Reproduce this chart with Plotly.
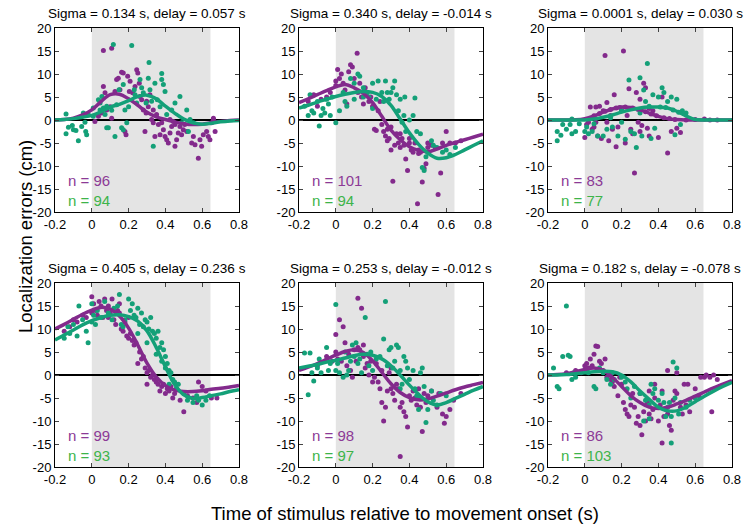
import plotly.graph_objects as go

# titles and counts per panel (row by row)
titles = [
    "Sigma = 0.134 s, delay = 0.057 s",
    "Sigma = 0.340 s, delay = -0.014 s",
    "Sigma = 0.0001 s, delay = 0.030 s",
    "Sigma = 0.405 s, delay = 0.236 s",
    "Sigma = 0.253 s, delay = -0.012 s",
    "Sigma = 0.182 s, delay = -0.078 s",
]
n_purple = [96, 101, 83, 99, 98, 86]
n_green = [94, 94, 77, 93, 97, 103]

x_ticks = [-0.2, 0, 0.2, 0.4, 0.6, 0.8]
x_tick_labels = ["-0.2", "0", "0.2", "0.4", "0.6", "0.8"]
y_ticks = [-20, -15, -10, -5, 0, 5, 10, 15, 20]
y_tick_labels = ["-20", "-15", "-10", "-5", "0", "5", "10", "15", "20"]

movement_end = 0.645

# fitted curves, sampled every 0.05 s
curve_x = [-0.2, -0.15, -0.1, -0.05, 0, 0.05, 0.1, 0.15, 0.2, 0.25, 0.3,
           0.35, 0.4, 0.45, 0.5, 0.55, 0.6, 0.65, 0.7, 0.75, 0.8]
curve_purple = [
    [0, 0.1, 0.4, 1.1, 2.2, 4.0, 5.5, 5.6, 4.6, 3.2, 1.7, 0.7, 0.1, -0.4, -0.8, -1.0, -0.9, -0.6, -0.3, -0.1, 0],
    [3.8, 4.6, 5.5, 6.4, 7.2, 7.7, 7.0, 5.8, 3.8, 0.8, -2.2, -4.3, -5.8, -6.6, -6.9, -6.3, -5.5, -4.9, -4.3, -3.7, -3.1],
    [0, 0, 0, 0.05, 0.3, 0.9, 1.7, 2.4, 2.8, 2.7, 2.2, 1.5, 0.8, 0.3, 0.1, 0, 0, 0, 0, 0, 0],
    [10.0, 11.0, 12.1, 13.2, 14.1, 14.7, 14.3, 12.8, 10.2, 6.5, 2.6, -0.4, -2.3, -3.3, -3.6, -3.6, -3.4, -3.1, -2.9, -2.6, -2.3],
    [1.0, 1.7, 2.5, 3.4, 4.3, 5.1, 5.5, 4.9, 3.1, 0.6, -1.9, -3.8, -4.9, -5.4, -5.2, -4.6, -3.9, -3.2, -2.6, -2.1, -1.6],
    [0, 0.1, 0.3, 0.7, 1.2, 1.5, 1.0, -0.5, -2.5, -4.5, -6.0, -7.0, -7.3, -7.0, -6.3, -5.5, -4.6, -3.7, -2.8, -2.0, -1.2],
]
curve_green = [
    [0, 0.1, 0.3, 0.6, 1.0, 1.8, 2.8, 3.4, 4.2, 5.1, 5.4, 4.6, 3.0, 1.5, 0.2, -0.6, -0.9, -0.7, -0.4, -0.2, -0.1],
    [2.6, 3.2, 3.9, 4.5, 5.1, 5.6, 6.0, 6.2, 6.0, 5.1, 3.2, 0.2, -2.8, -5.3, -7.2, -8.3, -8.2, -7.5, -6.5, -5.5, -4.5],
    [0, 0, 0, 0, 0, 0.2, 0.6, 1.1, 1.7, 2.2, 2.6, 2.8, 2.8, 2.6, 1.9, 0.9, 0.1, 0, 0, 0, 0],
    [7.6, 8.7, 9.8, 10.9, 11.8, 12.5, 13.0, 13.1, 12.7, 11.7, 9.6, 6.0, 1.8, -2.0, -4.3, -5.1, -4.9, -4.5, -4.1, -3.6, -3.2],
    [1.5, 1.9, 2.3, 2.8, 3.2, 3.7, 4.2, 4.5, 4.3, 3.5, 2.0, 0.0, -2.2, -4.2, -5.8, -6.5, -6.0, -5.1, -4.2, -3.3, -2.5],
    [0, 0, 0.1, 0.3, 0.5, 0.7, 0.8, 0.7, 0.0, -1.5, -3.5, -5.3, -7.0, -7.8, -7.8, -7.0, -5.8, -4.6, -3.5, -2.5, -1.6],
]

# single-trial errors, panel 1
p1_purple_x = [0.063, 0.108, 0.017, 0.036, 0.054, 0.063, 0.072, 0.081, 0.1, 0.108, 0.126, 0.135, 0.144, 0.153,
               0.162, 0.171, 0.18, 0.186, 0.195, 0.204, 0.208, 0.222, 0.235, 0.244, 0.25, 0.258, 0.262, 0.271,
               0.28, 0.289, 0.295, 0.298, 0.307, 0.316, 0.325, 0.334, 0.343, 0.352, 0.362, 0.371, 0.38, 0.389,
               0.398, 0.407, 0.416, 0.425, 0.434, 0.443, 0.452, 0.461, 0.47, 0.479, 0.488, 0.497, 0.505, 0.516,
               0.543, 0.552, 0.561, 0.579, 0.588, 0.597, 0.606, 0.624, 0.633, 0.642, 0.651, 0.661, 0.67, 0.661,
               0.425, 0.452, 0.334]
p1_purple_y = [15.1, 15.6, -0.3, 0.8, 1.5, 7.3, 5.9, 2.2, 2.9, 0.4, 6.2, 8.8, 9.1, 6.6,
               10.4, 10.2, -2.5, -3.2, 9.5, 6.2, 8.4, 5.9, 7.3, 10.9, 10.2, 8.0, 5.1, 4.4,
               2.2, -2.5, 1.5, 4.1, 2.9, 5.5, 0.1, -0.6, -3.6, 1.2, -1.0, -3.2, -0.6, -2.1,
               -3.6, -4.3, -5.0, -2.8, -1.4, -0.3, -5.7, -4.3, -2.8, -1.4, -3.2, -2.1, -1.0, -2.5,
               -5.0, -3.6, -5.4, -8.3, -4.3, -5.7, -3.2, -2.5, -3.6, -4.3, -0.6, 0.1, -2.5, 0.4,
               0.1, -1.0, 2.2]
p1_green_x = [-0.14, -0.14, -0.127, -0.106, -0.1, -0.086, -0.073, -0.055, -0.033, -0.028, -0.037, -0.046, -0.019,
              0.008, 0.036, 0.045, 0.055, 0.063, 0.072, 0.081, 0.09, 0.117, 0.126, 0.148, 0.162, 0.171, 0.18,
              0.2, 0.217, 0.231, 0.244, 0.262, 0.271, 0.28, 0.295, 0.307, 0.311, 0.316, 0.325, 0.334, 0.343,
              0.356, 0.371, 0.38, 0.389, 0.398, 0.407, 0.434, 0.452, 0.479, 0.488, 0.516, 0.525, 0.534, 0.552,
              0.38, 0.171, 0.081, 0.108, 0.008, 0.045, 0.135, 0.19, 0.235]
p1_green_y = [1.3, -3.0, -1.6, -1.2, -2.1, -2.3, -4.5, -1.4, -2.5, -3.2, -0.5, 1.5, 1.2,
              2.6, 4.4, 3.7, 5.1, 2.6, 1.2, -1.7, -1.7, 16.4, -3.6, 6.6, -1.7, -2.1, 2.2,
              2.9, 16.2, 6.6, 3.7, 8.8, 7.0, 5.9, 3.7, 9.1, 12.5, 6.6, 4.1, -5.7, 8.0,
              4.4, 2.9, 10.1, 7.7, 6.2, 1.2, 2.2, 3.7, 5.1, -0.6, 2.2, -2.5, 0.1, -0.6,
              8.8, 7.7, 3.0, 2.1, 0.8, 2.2, 3.3, -0.6, 5.5]

# panel 2
p2_purple_x = [-0.15, -0.12, -0.1, -0.08, -0.05, -0.03, 0.0, 0.0, 0.01, 0.02, 0.03, 0.04, 0.05, 0.06, 0.07,
               0.08, 0.09, 0.1, 0.116, 0.12, 0.13, 0.14, 0.15, 0.16, 0.17, 0.18, 0.19, 0.2, 0.21, 0.22, 0.23,
               0.24, 0.25, 0.26, 0.27, 0.28, 0.29, 0.3, 0.31, 0.32, 0.33, 0.34, 0.35, 0.36, 0.37, 0.38, 0.39,
               0.4, 0.41, 0.42, 0.43, 0.444, 0.45, 0.46, 0.47, 0.48, 0.49, 0.5, 0.52, 0.54, 0.556, 0.57, 0.58,
               0.6, 0.62, 0.65, 0.68, 0.28, 0.3, 0.35, 0.4, 0.45, 0.5]
p2_purple_y = [4.0, 5.5, 3.0, 4.5, 5.0, 6.0, 7.5, 8.5, 11.0, 9.0, 10.0, 8.0, 6.5, 3.5, 10.5,
               12.0, 11.5, 9.0, 14.5, 6.0, 8.0, 5.0, 3.5, 7.0, 6.0, 4.0, 5.0, 3.0, -2.0, -2.3, 2.0,
               4.0, -1.0, -2.5, -3.5, -4.5, -4.0, -6.5, -13.3, -5.5, -3.0, -5.0, -6.0, -4.0, -5.5, -8.5, -11.0,
               -5.0, -6.5, -7.0, -5.0, -18.2, -6.5, -7.0, -13.5, -10.5, -9.5, -6.0, -5.5, -6.0, -16.2, -11.5, -5.0,
               -2.5, -5.0, -5.0, -4.5, -2.0, -1.5, -3.0, -4.0, -7.3, -5.0]
p2_green_x = [-0.17, -0.15, -0.14, -0.13, -0.12, -0.1, -0.09, -0.08, -0.07, -0.06, -0.05, -0.04, -0.03, -0.02,
              0.0, 0.02, 0.04, 0.05, 0.06, 0.08, 0.1, 0.12, 0.13, 0.15, 0.17, 0.18, 0.2, 0.22, 0.23, 0.25,
              0.26, 0.27, 0.28, 0.29, 0.3, 0.31, 0.32, 0.33, 0.34, 0.35, 0.36, 0.37, 0.375, 0.38, 0.4, 0.42,
              0.43, 0.44, 0.46, 0.47, 0.48, 0.49, 0.5, 0.52, 0.53, 0.55, 0.58, 0.6, 0.62, 0.65, 0.1, 0.2, 0.15]
p2_green_y = [3.0, 1.0, 5.5, 2.0, 1.5, 4.0, -1.3, 1.0, 2.5, 1.5, 4.5, 3.5, 1.0, 5.0,
              -0.6, 2.0, 6.0, 4.0, 3.0, 9.0, 8.0, 10.0, 9.5, 7.0, 6.0, 5.0, 8.0, 4.5, 8.5, 6.0,
              4.0, 8.5, 6.0, 4.5, 6.0, 7.0, 8.5, 5.5, 2.0, 4.5, -0.5, 1.0, 5.0, -2.5, 0.0, 1.0,
              4.8, -2.5, -3.0, -10.3, -11.0, -8.0, -7.0, -4.5, -5.5, -6.0, -7.0, -6.5, -7.5, -6.0, 4.5, 2.5, 5.0]

# panel 3
p3_purple_x = [0.0, 0.01, 0.02, 0.03, 0.04, 0.05, 0.06, 0.07, 0.08, 0.09, 0.1, 0.11, 0.12, 0.13, 0.14, 0.15,
               0.16, 0.17, 0.18, 0.2, 0.21, 0.22, 0.23, 0.24, 0.25, 0.26, 0.27, 0.28, 0.29, 0.3, 0.31, 0.32,
               0.33, 0.34, 0.35, 0.37, 0.4, 0.42, 0.45, 0.47, 0.5, 0.52, 0.3, 0.25, 0.35, 0.12, 0.06,
               0.05, 0.08, 0.11, 0.14, 0.17, 0.19, 0.22, 0.26, 0.29, 0.33, 0.36, 0.39, 0.43, 0.46, 0.49,
               0.55, 0.6, 0.65, 0.68, 0.72]
p3_purple_y = [-3.8, -1.0, -0.5, 2.8, -2.0, -1.5, -0.5, -3.5, 3.0, -4.0, 2.0, 14.0, 3.8, -4.5, 1.0, -2.0,
               5.5, -5.8, -1.5, 2.0, 15.0, -5.0, 1.0, 6.8, -2.0, -3.0, -11.5, 6.0, -0.5, -2.5, -1.2, 8.0,
               7.0, -1.8, -3.5, 2.0, -3.8, 5.0, -7.2, -2.5, -1.8, -2.7, 4.5, 2.5, 2.5, -0.5, 2.8,
               0.9, 1.4, 1.9, 2.3, 2.6, 2.7, 2.8, 2.6, 2.3, 1.8, 1.3, 0.9, 0.5, 0.3, 0.1,
               0.0, 0.1, 0.2, 0.0, 0.0]
p3_green_x = [-0.15, -0.15, -0.13, -0.12, -0.1, -0.08, -0.07, -0.07, -0.05, -0.03, 0.0, 0.01, 0.02, 0.04, 0.05,
              0.07, 0.1, 0.12, 0.14, 0.15, 0.18, 0.2, 0.22, 0.24, 0.25, 0.27, 0.28, 0.3, 0.31, 0.32, 0.33,
              0.34, 0.35, 0.36, 0.38, 0.4, 0.42, 0.43, 0.45, 0.47, 0.49, 0.5, 0.52, 0.53, 0.55, 0.37, 0.3, 0.2,
              0.41, 0.44, 0.48, 0.51]
p3_green_y = [-2.5, -4.5, -3.3, -1.0, -2.0, -1.0, 0.2, -3.0, -2.5, -0.8, -2.5, -1.5, -3.0, -2.5, -0.8,
              -3.5, -3.5, -2.0, 0.5, -1.5, -3.5, -0.5, -4.2, 8.7, -2.5, -3.0, -6.0, 9.2, -3.5, 6.5, 4.0,
              12.3, 3.0, -4.0, -1.8, 5.0, 7.0, 6.0, 4.0, 5.0, -3.2, 4.5, -1.0, 2.0, 1.5, 5.5, 1.5, 2.0,
              2.8, 2.7, 2.2, 1.7]

# panel 4
p4_purple_x = [-0.15, -0.12, -0.1, -0.08, -0.05, -0.03, 0.0, 0.0, 0.01, 0.02, 0.03, 0.04, 0.05, 0.06, 0.07,
               0.08, 0.09, 0.1, 0.11, 0.12, 0.13, 0.14, 0.15, 0.16, 0.17, 0.18, 0.19, 0.2, 0.21, 0.22, 0.23,
               0.24, 0.25, 0.26, 0.27, 0.28, 0.29, 0.3, 0.31, 0.32, 0.33, 0.34, 0.35, 0.36, 0.37, 0.38, 0.39,
               0.4, 0.41, 0.42, 0.43, 0.44, 0.45, 0.46, 0.48, 0.5, 0.52, 0.55, 0.58, 0.6, 0.62, 0.57, 0.65,
               0.68, 0.3, 0.2, 0.15, 0.09]
p4_purple_y = [9.5, 10.5, 12.0, 11.5, 13.0, 12.5, 13.5, 17.0, 15.5, 14.0, 13.0, 16.0, 15.0, 12.5, 16.5,
               14.0, 15.0, 13.5, 16.5, 12.0, 11.0, 14.0, 13.5, 10.0, 9.5, 11.5, 8.5, 8.0, 9.0, 7.5, 6.5,
               7.0, 2.5, 5.0, 3.5, 4.0, 1.5, 0.5, 1.0, -0.5, 0.0, -1.0, -1.5, -2.0, -3.5, -2.5, -2.0,
               -4.0, -3.0, -3.5, -2.5, -5.0, -4.0, -3.0, -5.5, -8.0, -4.5, -5.0, -1.5, -2.5, -3.5, -6.0, -5.0,
               -5.0, -2.0, 12.5, 15.5, 12.5]
p4_green_x = [-0.15, -0.13, -0.12, -0.1, -0.08, -0.07, -0.05, -0.03, -0.02, 0.0, 0.0, 0.01, 0.02, 0.03, 0.05,
              0.07, 0.09, 0.11, 0.12, 0.14, 0.15, 0.16, 0.17, 0.18, 0.2, 0.21, 0.22, 0.23, 0.24, 0.25, 0.26,
              0.27, 0.28, 0.29, 0.3, 0.31, 0.32, 0.33, 0.34, 0.35, 0.36, 0.37, 0.38, 0.39, 0.4, 0.41, 0.42,
              0.43, 0.44, 0.45, 0.46, 0.47, 0.5, 0.52, 0.55, 0.57, 0.58, 0.6, 0.62, 0.64, 0.25, 0.3, 0.35,
              0.38, 0.4, 0.42]
p4_green_y = [8.0, 10.5, 9.0, 11.0, 8.5, 15.0, 12.0, 9.5, 7.0, 11.5, 15.5, 13.0, 11.0, 14.0, 12.5,
              16.0, 13.5, 12.0, 14.5, 15.0, 17.5, 11.0, 10.5, 12.0, 16.5, 14.0, 15.5, 13.0, 12.5, 14.5, 11.0,
              13.5, 10.5, 12.0, 11.5, 10.0, 12.5, 9.5, 9.0, 8.0, 9.5, 6.0, 7.0, 5.5, 4.0, 2.5, 1.0,
              0.5, -1.0, -1.5, -3.0, -2.0, -4.0, -5.5, -6.0, -4.5, -5.5, -6.5, -5.5, -4.5, 9.0, 7.0, 4.5,
              3.0, 1.5, -2.0]

# panel 5
p5_purple_x = [-0.1, -0.05, -0.02, 0.0, 0.0, 0.01, 0.02, 0.03, 0.04, 0.05, 0.06, 0.07, 0.08, 0.09, 0.1, 0.11,
               0.12, 0.13, 0.14, 0.15, 0.16, 0.17, 0.18, 0.19, 0.2, 0.21, 0.22, 0.23, 0.24, 0.25, 0.26, 0.27,
               0.28, 0.29, 0.3, 0.31, 0.32, 0.33, 0.34, 0.35, 0.35, 0.36, 0.37, 0.38, 0.39, 0.4, 0.41, 0.42,
               0.43, 0.44, 0.45, 0.46, 0.47, 0.48, 0.49, 0.5, 0.52, 0.55, 0.56, 0.58, 0.59, 0.6, 0.62, 0.64,
               0.68, 0.3, 0.25, 0.15, 0.12]
p5_purple_y = [2.0, 4.0, 3.0, 8.8, 5.0, 3.5, 12.0, 3.0, 10.5, 7.0, 2.0, 4.5, 1.0, -0.5, 5.5, 3.0,
               16.7, 5.5, 14.5, 4.0, 1.5, 2.5, 0.0, 3.0, -1.5, -0.5, 2.5, -1.5, -3.0, -6.0, -10.0, -7.0,
               -3.5, 0.5, -3.0, -4.0, -5.5, -2.0, -3.0, -17.7, -7.0, -6.0, -8.0, -9.0, -11.3, -4.5, -5.5, -3.5,
               -5.0, -6.5, -3.0, -7.0, -12.3, -4.0, -6.0, -4.5, -3.5, -7.0, -4.0, -8.5, -10.5, -9.0, -7.5, -5.5,
               -4.0, 1.5, 1.0, 6.5, 6.0]
p5_green_x = [-0.17, -0.15, -0.14, -0.13, -0.12, -0.1, -0.09, -0.08, -0.06, -0.05, -0.04, -0.03, 0.0, 0.0, 0.01,
              0.02, 0.04, 0.05, 0.06, 0.07, 0.08, 0.09, 0.1, 0.11, 0.12, 0.13, 0.14, 0.16, 0.17, 0.18, 0.19,
              0.2, 0.22, 0.24, 0.26, 0.27, 0.28, 0.29, 0.3, 0.31, 0.32, 0.33, 0.34, 0.35, 0.36, 0.37, 0.38,
              0.39, 0.4, 0.42, 0.43, 0.44, 0.45, 0.46, 0.47, 0.48, 0.49, 0.5, 0.52, 0.53, 0.55, 0.57, 0.6,
              0.45, 0.35]
p5_green_y = [4.8, -4.3, 4.8, 0.5, -1.3, 1.5, 3.5, 0.5, 3.0, 6.0, 1.0, 2.5, 15.3, 1.0, 2.5,
              0.5, -0.5, 5.0, 0.0, 1.0, 3.0, 6.5, 4.0, 7.0, 2.5, 3.5, 0.5, 12.5, 4.5, 2.0, 5.0,
              1.0, 3.5, 4.0, 7.8, 16.0, 2.0, 5.5, 6.0, 1.5, 3.0, 6.5, 6.0, 1.0, -2.0, 4.0, 3.0,
              1.5, -1.0, 1.0, -3.0, -4.5, -5.0, 0.5, 1.5, -2.5, -10.3, -7.5, -3.5, -5.5, -6.5, -4.0, -4.5,
              -7.5, -3.0]

# panel 6
p6_purple_x = [-0.1, -0.05, -0.02, 0.0, 0.01, 0.02, 0.03, 0.04, 0.05, 0.06, 0.07, 0.08, 0.09, 0.1, 0.11, 0.12,
               0.13, 0.14, 0.15, 0.16, 0.18, 0.19, 0.2, 0.21, 0.22, 0.23, 0.24, 0.25, 0.26, 0.27, 0.28, 0.29,
               0.3, 0.31, 0.32, 0.33, 0.34, 0.35, 0.36, 0.37, 0.38, 0.4, 0.41, 0.42, 0.43, 0.44, 0.45, 0.46,
               0.47, 0.48, 0.49, 0.5, 0.52, 0.53, 0.54, 0.55, 0.56, 0.57, 0.6, 0.62, 0.63, 0.65, 0.66, 0.68,
               0.7, 0.72, 0.69, 0.42, 0.38, 0.35, 0.3, 0.45, 0.5]
p6_purple_y = [0.5, 1.0, 0.5, 2.0, 2.5, 1.5, 3.5, 2.0, 4.5, 6.3, 6.2, 3.0, 2.5, 1.0, 3.5, -0.5,
               0.5, -1.0, -1.5, -2.5, -4.5, -0.5, -2.0, -6.0, -7.5, -8.5, -9.0, -6.5, -4.0, -7.0, -10.5, -9.0,
               -11.0, -13.0, -8.0, -10.0, -6.0, -8.5, -9.5, -7.5, -5.0, -10.0, -6.5, -14.8, -9.0, -7.5, -8.5, -11.0,
               -12.0, -5.5, -3.5, -4.0, -7.0, -8.5, -2.0, -6.5, -2.0, -8.0, -3.0, -4.5, -0.5, -0.5, 0.0, -0.5,
               0.0, -1.0, -8.0, -3.5, -2.0, -3.5, -4.0, 1.0, 0.5]
p6_green_x = [-0.17, -0.15, -0.14, -0.12, -0.1, -0.09, -0.08, -0.07, -0.06, -0.05, 0.01, 0.02, 0.05, 0.06, 0.08,
              0.1, 0.12, 0.14, 0.15, 0.16, 0.2, 0.22, 0.23, 0.25, 0.27, 0.3, 0.32, 0.33, 0.35, 0.36, 0.37,
              0.38, 0.4, 0.42, 0.43, 0.44, 0.45, 0.46, 0.47, 0.48, 0.49, 0.5, 0.51, 0.52, 0.55, 0.57, 0.6,
              0.35, 0.47]
p6_green_y = [1.5, -2.5, -3.0, 4.0, 15.0, 4.3, 4.0, -1.0, 0.5, -0.5, 1.0, 0.5, -2.5, -3.0, 1.5,
              0.5, -1.0, -2.0, 0.5, -1.0, -0.5, -1.5, -3.0, -5.0, -2.5, -4.0, -10.0, -5.5, -6.5, -2.0, -4.0,
              -3.0, -5.5, -4.0, -6.0, -9.0, -7.0, -6.0, -14.8, 2.8, -5.0, 1.5, -8.5, -6.0, -7.0, -5.5, -5.0,
              -9.5, -9.0]

purple_x = [p1_purple_x, p2_purple_x, p3_purple_x, p4_purple_x, p5_purple_x, p6_purple_x]
purple_y = [p1_purple_y, p2_purple_y, p3_purple_y, p4_purple_y, p5_purple_y, p6_purple_y]
green_x = [p1_green_x, p2_green_x, p3_green_x, p4_green_x, p5_green_x, p6_green_x]
green_y = [p1_green_y, p2_green_y, p3_green_y, p4_green_y, p5_green_y, p6_green_y]

PURPLE = "#832a8c"
GREEN = "#14a078"
PURPLE_TXT = "#8c3a96"
GREEN_TXT = "#3db44a"
FONT = "Liberation Sans, Arial, sans-serif"

W, H = 747, 528
col_px = [(55, 239), (299, 483), (548, 732)]
row_px = [(28, 212), (283, 467)]


def px_x(p):
    return p / W


def px_y(p):
    return 1 - p / H


fig = go.Figure()

for i in range(6):
    r, c = divmod(i, 3)
    ax = "" if i == 0 else str(i + 1)
    xa, ya = "x" + ax, "y" + ax
    x0, x1 = col_px[c]
    y0, y1 = row_px[r]

    fig.update_layout({
        "xaxis" + ax: dict(domain=[px_x(x0), px_x(x1)], anchor=ya, range=[-0.2, 0.8], automargin=False,
                           tickvals=x_ticks, ticktext=x_tick_labels, ticks="inside", ticklen=4,
                           showline=True, linecolor="black", linewidth=1, mirror="ticks",
                           showgrid=False, zeroline=False, tickfont=dict(size=13, color="black")),
        "yaxis" + ax: dict(domain=[px_y(y1), px_y(y0)], anchor=xa, range=[-20, 20], automargin=False,
                           tickvals=y_ticks, ticktext=y_tick_labels, ticks="inside", ticklen=4,
                           showline=True, linecolor="black", linewidth=1, mirror="ticks",
                           showgrid=False, zeroline=True, zerolinecolor="black", zerolinewidth=1.5,
                           tickfont=dict(size=13, color="black")),
    })

    # movement period shading
    fig.add_shape(type="rect", xref=xa, yref=ya + " domain", x0=0, x1=movement_end, y0=0, y1=1,
                  fillcolor="#e4e4e4", line_width=0, layer="below")

    fig.add_trace(go.Scatter(x=purple_x[i], y=purple_y[i], mode="markers", xaxis=xa, yaxis=ya,
                             marker=dict(color=PURPLE, size=5), showlegend=False))
    fig.add_trace(go.Scatter(x=green_x[i], y=green_y[i], mode="markers", xaxis=xa, yaxis=ya,
                             marker=dict(color=GREEN, size=5), showlegend=False))
    fig.add_trace(go.Scatter(x=curve_x, y=curve_purple[i], mode="lines", xaxis=xa, yaxis=ya,
                             line=dict(color=PURPLE, width=3.5, shape="spline"), showlegend=False))
    fig.add_trace(go.Scatter(x=curve_x, y=curve_green[i], mode="lines", xaxis=xa, yaxis=ya,
                             line=dict(color=GREEN, width=3.5, shape="spline"), showlegend=False))

    fig.add_annotation(text=titles[i], xref="paper", yref="paper",
                       x=px_x((x0 + x1) / 2), y=px_y(y0 - 15), showarrow=False,
                       xanchor="center", yanchor="middle", font=dict(size=13.5, color="black"))
    fig.add_annotation(text="n = %d" % n_purple[i], xref=xa + " domain", yref=ya + " domain",
                       x=0.06, y=0.17, showarrow=False, xanchor="left", yanchor="middle",
                       font=dict(size=15, color=PURPLE_TXT))
    fig.add_annotation(text="n = %d" % n_green[i], xref=xa + " domain", yref=ya + " domain",
                       x=0.06, y=0.065, showarrow=False, xanchor="left", yanchor="middle",
                       font=dict(size=15, color=GREEN_TXT))

fig.add_annotation(text="Localization errors (cm)", xref="paper", yref="paper", x=px_x(25), y=px_y(237),
                   xanchor="center", yanchor="middle", textangle=-90, showarrow=False,
                   font=dict(size=18.5, color="black"))
fig.add_annotation(text="Time of stimulus relative to movement onset (s)", xref="paper", yref="paper",
                   x=px_x(405), y=px_y(513), xanchor="center", yanchor="middle", showarrow=False,
                   font=dict(size=18.5, color="black"))

fig.update_layout(width=W, height=H, margin=dict(l=0, r=0, t=0, b=0, autoexpand=False),
                  paper_bgcolor="white", plot_bgcolor="white",
                  font=dict(family=FONT, color="black"))

# drop the default page margin so the figure sits at the window's corner
fig.write_html("out.html", config={"displayModeBar": False},
               post_script="document.body.style.margin='0';document.body.style.overflow='hidden';")
